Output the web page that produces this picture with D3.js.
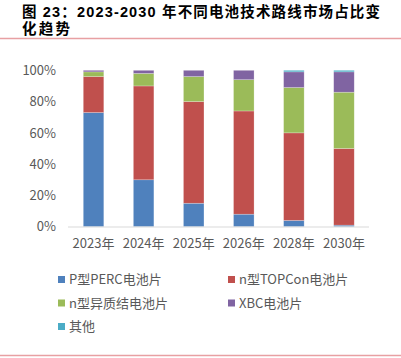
<!DOCTYPE html>
<html><head><meta charset="utf-8">
<script src="https://cdn.jsdelivr.net/npm/d3@7"></script>
<style>body{margin:0;background:#fff;}svg{display:block;}</style>
</head><body>
<svg id="c" width="401" height="358"></svg>
<script>
const categories = ["2023年","2024年","2025年","2026年","2028年","2030年"];
const seriesNames = ["P型PERC电池片","n型TOPCon电池片","n型异质结电池片","XBC电池片","其他"];
const perc   = [73, 30, 15, 8, 4, 1];
const topcon = [23, 60, 65, 66, 56, 49];
const hjt    = [3, 8, 16, 20, 29, 36];
const xbc    = [1, 2, 4, 6, 10, 13];
const other  = [0, 0, 0, 0, 1, 1];
const yTicks = [0, 20, 40, 60, 80, 100];
const colors = ["#4f81bd","#c0504d","#9bbb59","#8064a2","#4bacc6"];

const svg = d3.select("#c");
const font = "'Noto Sans CJK SC', 'Noto Sans', sans-serif";

// title
const title = svg.append("g").attr("font-family", "'Liberation Sans', Arial, 'Noto Sans CJK SC', sans-serif")
  .attr("font-weight","bold").attr("font-size",14.5).attr("fill","#000");
title.append("text").attr("x",22).attr("y",16.5).attr("textLength",358).attr("lengthAdjust","spacing")
  .text("图 23：2023-2030 年不同电池技术路线市场占比变");
title.append("text").attr("x",22).attr("y",33.5).attr("textLength",48).attr("lengthAdjust","spacing").text("化趋势");
svg.append("line").attr("x1",0).attr("x2",401).attr("y1",38.5).attr("y2",38.5).attr("stroke","#e8a0a3").attr("stroke-width",1.5);
svg.append("line").attr("x1",0).attr("x2",401).attr("y1",355.5).attr("y2",355.5).attr("stroke","#e8a0a3").attr("stroke-width",1.5);

const x = d3.scaleBand().domain(categories).range([68.5, 369]).paddingInner(0.59).paddingOuter(0.295);
const y = d3.scaleLinear().domain([0,100]).range([226.7, 70.3]);

const rows = categories.map((c,i)=>({cat:c, v:[perc[i],topcon[i],hjt[i],xbc[i],other[i]]}));
const stack = d3.stack().keys([0,1,2,3,4]).value((d,k)=>d.v[k]);
const layers = stack(rows);

svg.append("g").selectAll("g").data(layers).join("g")
  .attr("fill",(d,i)=>colors[i])
  .selectAll("rect").data(d=>d).join("rect")
  .attr("x",d=>x(d.data.cat))
  .attr("width",x.bandwidth())
  .attr("y",d=>y(d[1]))
  .attr("height",d=>Math.max(0,y(d[0])-y(d[1])))
  .attr("stroke","#ffffff").attr("stroke-opacity",0.4).attr("stroke-width",0.6);

// x axis line
svg.append("line").attr("x1",68).attr("x2",369).attr("y1",227).attr("y2",227).attr("stroke","#d9d9d9").attr("stroke-width",1);

// y axis labels
const ya = svg.append("g").attr("transform","translate(56,0)")
  .call(d3.axisLeft(y).tickValues(yTicks).tickFormat(d=>d+"%").tickSize(0).tickPadding(0));
ya.select(".domain").remove();
ya.selectAll("text").attr("font-family",font).attr("font-size",13).attr("fill","#595959");

// x axis labels
const xa = svg.append("g").attr("transform","translate(0,227)")
  .call(d3.axisBottom(x).tickSize(0).tickPadding(12));
xa.select(".domain").remove();
xa.selectAll("text").attr("font-family",font).attr("font-size",13).attr("fill","#595959");

// legend
const legPos = [[58,279.5],[228,279.5],[58,303],[228,303],[58,326.5]];
const leg = svg.append("g").selectAll("g").data(seriesNames).join("g")
  .attr("transform",(d,i)=>`translate(${legPos[i][0]},${legPos[i][1]})`);
leg.append("rect").attr("x",0).attr("y",-3.5).attr("width",7).attr("height",7).attr("fill",(d,i)=>colors[i]);
leg.append("text").attr("x",11).attr("y",0).attr("dy","0.35em").attr("font-family",font).attr("font-size",13).attr("fill","#595959").text(d=>d);
</script>
</body></html>
